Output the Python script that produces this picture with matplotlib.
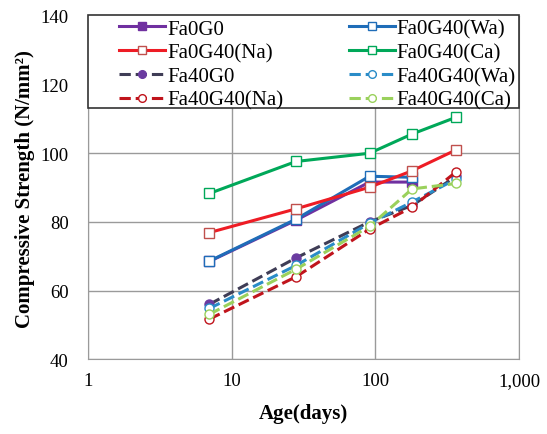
import numpy as np
import matplotlib.pyplot as plt
from matplotlib.patches import Rectangle
from matplotlib.ticker import FixedLocator, FixedFormatter

plt.rcParams['font.family'] = ['Liberation Serif', 'DejaVu Serif']

days = [7, 28, 91, 180, 365]
days4 = [7, 28, 91, 180]

fa0g0 = [68.5, 80.5, 91.6, 91.6]
fa0g40_wa = [68.6, 80.8, 93.3, 93.0]
fa0g40_na = [76.9, 83.8, 90.1, 94.9, 101.0]
fa0g40_ca = [88.3, 97.6, 100.0, 105.6, 110.5]
fa40g0 = [56.0, 69.5, 80.0, 84.8, 93.3]
fa40g40_wa = [54.8, 67.3, 79.6, 85.8, 92.5]
fa40g40_na = [51.7, 64.0, 77.9, 84.3, 94.6]
fa40g40_ca = [53.1, 66.2, 78.7, 89.6, 91.2]

fig = plt.figure(figsize=(5.47, 4.35), dpi=100)
ax = fig.add_axes([0.161, 0.172, 0.788, 0.789])

lw = 2.2
ms = 6.5
# solid series, squares
l1, = ax.plot(days4, fa0g0, '-', color='#7030A0', lw=lw, marker='s', ms=ms,
              mfc='#7030A0', mec='#7030A0', label='Fa0G0')
l2, = ax.plot(days4, fa0g40_wa, '-', color='#1F6DB8', lw=lw, marker='s', ms=ms,
              mfc='white', mec='#1F6DB8', label='Fa0G40(Wa)')
l3, = ax.plot(days, fa0g40_na, '-', color='#EE1C25', lw=lw, marker='s', ms=ms,
              mfc='white', mec='#C0504D', label='Fa0G40(Na)')
l4, = ax.plot(days, fa0g40_ca, '-', color='#00A859', lw=lw, marker='s', ms=ms,
              mfc='white', mec='#00A859', label='Fa0G40(Ca)')
# dashed series, circles
l5, = ax.plot(days, fa40g0, '--', color='#3F3D56', lw=lw, marker='o', ms=ms,
              mfc='#6A3BA0', mec='#6A3BA0', label='Fa40G0')
l6, = ax.plot(days, fa40g40_wa, '--', color='#2A8CC8', lw=lw, marker='o', ms=ms,
              mfc='white', mec='#2A8CC8', label='Fa40G40(Wa)')
l7, = ax.plot(days, fa40g40_na, '--', color='#C0141C', lw=lw, marker='o', ms=ms,
              mfc='white', mec='#C0141C', label='Fa40G40(Na)')
l8, = ax.plot(days, fa40g40_ca, '--', color='#9AD15C', lw=lw, marker='o', ms=ms,
              mfc='white', mec='#9AD15C', label='Fa40G40(Ca)')

ax.set_xscale('log')
ax.set_xlim(1, 1000)
ax.set_ylim(40, 140)
ax.xaxis.set_major_locator(FixedLocator([1, 10, 100, 1000]))
ax.xaxis.set_major_formatter(FixedFormatter(['1', '10', '100', '1,000']))
ax.xaxis.set_minor_locator(FixedLocator([]))
ax.set_yticks([40, 60, 80, 100, 120, 140])
ax.tick_params(length=0, labelsize=13.5)
ax.tick_params(axis='y', pad=14)
ax.tick_params(axis='x', pad=9)
ax.grid(True, color='#9A9A9A', lw=1)
for s in ax.spines.values():
    s.set_color('#9A9A9A')

ax.set_xlabel('Age(days)', fontsize=15, fontweight='bold', labelpad=10)
ax.set_ylabel('Compressive Strength (N/mm²)', fontsize=15, fontweight='bold', labelpad=4)

# legend box spanning the plot width
box = Rectangle((0, 0.733), 1, 0.27, transform=ax.transAxes, facecolor='white',
                edgecolor='#333333', lw=1.2, zorder=4, clip_on=False)
ax.add_patch(box)

handles = [l1, l3, l5, l7, l2, l4, l6, l8]
leg = ax.legend(handles=handles, ncol=2, loc='upper left', bbox_to_anchor=(0.065, 1.0, 0.935, 0),
                mode='expand', fontsize=15, frameon=False,
                handlelength=2.2, handletextpad=0.1,
                borderpad=0.15, labelspacing=0.2, borderaxespad=0, columnspacing=1.0,
                markerscale=0.85)
leg.set_zorder(5)

fig.savefig('out.png', dpi=100)
